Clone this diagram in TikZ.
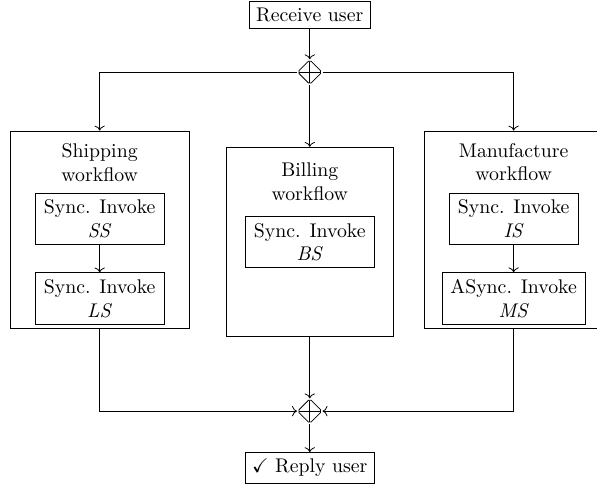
\documentclass[tikz,border=0pt]{standalone}
\usepackage{amssymb}
\usetikzlibrary{arrows.meta, positioning, shapes.geometric}

\begin{document}
\begin{tikzpicture}[
    block/.style = {
        rectangle,
        draw,
        align=center,
        inner xsep=4.3pt,
        minimum height=0.85cm,
        minimum width=2.24cm
    },
    flow/.style = {
        rectangle,
        draw,
        minimum width=3.18cm,
        minimum height=3.51cm
    },
    title/.style = {
        align=center,
        inner sep=0pt
    },
    gate/.style = {
        diamond,
        draw,
        rounded corners=1pt,
        inner sep=0pt,
        minimum size=0.44cm,
        path picture={
            \draw (path picture bounding box.north) -- (path picture bounding box.south);
            \draw (path picture bounding box.west) -- (path picture bounding box.east);
        }
    }
]

\useasboundingbox (0,0) rectangle (10.60,-8.63);

% Nodes with explicit coordinates
\node[draw] (recv) at (5.50,-0.27) {Receive user};
\node[gate] (fork) at (5.50,-1.28) {};

\node[flow] (ship) at (1.77,-4.08) {};
\node[title] (shiptitle) at (1.77,-2.89) {Shipping\\workflow};
\node[block] (ss) at (1.77,-3.89) {Sync. Invoke\\\textit{SS}};
\node[block] (ls) at (1.77,-5.30) {Sync. Invoke\\\textit{LS}};

\node[flow, minimum width=2.96cm, minimum height=3.35cm] (bill) at (5.50,-4.29) {};
\node[title] (billtitle) at (5.50,-3.23) {Billing\\workflow};
\node[block] (bs) at (5.50,-4.30) {Sync. Invoke\\\textit{BS}};

\node[flow] (manu) at (9.12,-4.08) {};
\node[title] (manutitle) at (9.12,-2.88) {Manufacture\\workflow};
\node[block] (is) at (9.12,-3.89) {Sync. Invoke\\\textit{IS}};
\node[block] (ms) at (9.12,-5.30) {ASync. Invoke\\\textit{MS}};

\node[gate] (join) at (5.50,-7.30) {};
\node[draw] (reply) at (5.50,-8.31) {$\checkmark$ Reply user};

% Arrows (split)
\draw[->] (recv) -- (fork);
\draw[->] (fork) -| (ship);
\draw[->] (fork) -- (bill);
\draw[->] (fork) -| (manu);

% Inside the workflows
\draw[->] (ss) -- (ls);
\draw[->] (is) -- (ms);

% Merge and reply
\draw[->] (ship) |- (join);
\draw[->] (bill) -- (join);
\draw[->] (manu) |- (join);
\draw[->] (join) -- (reply);

\end{tikzpicture}
\end{document}
